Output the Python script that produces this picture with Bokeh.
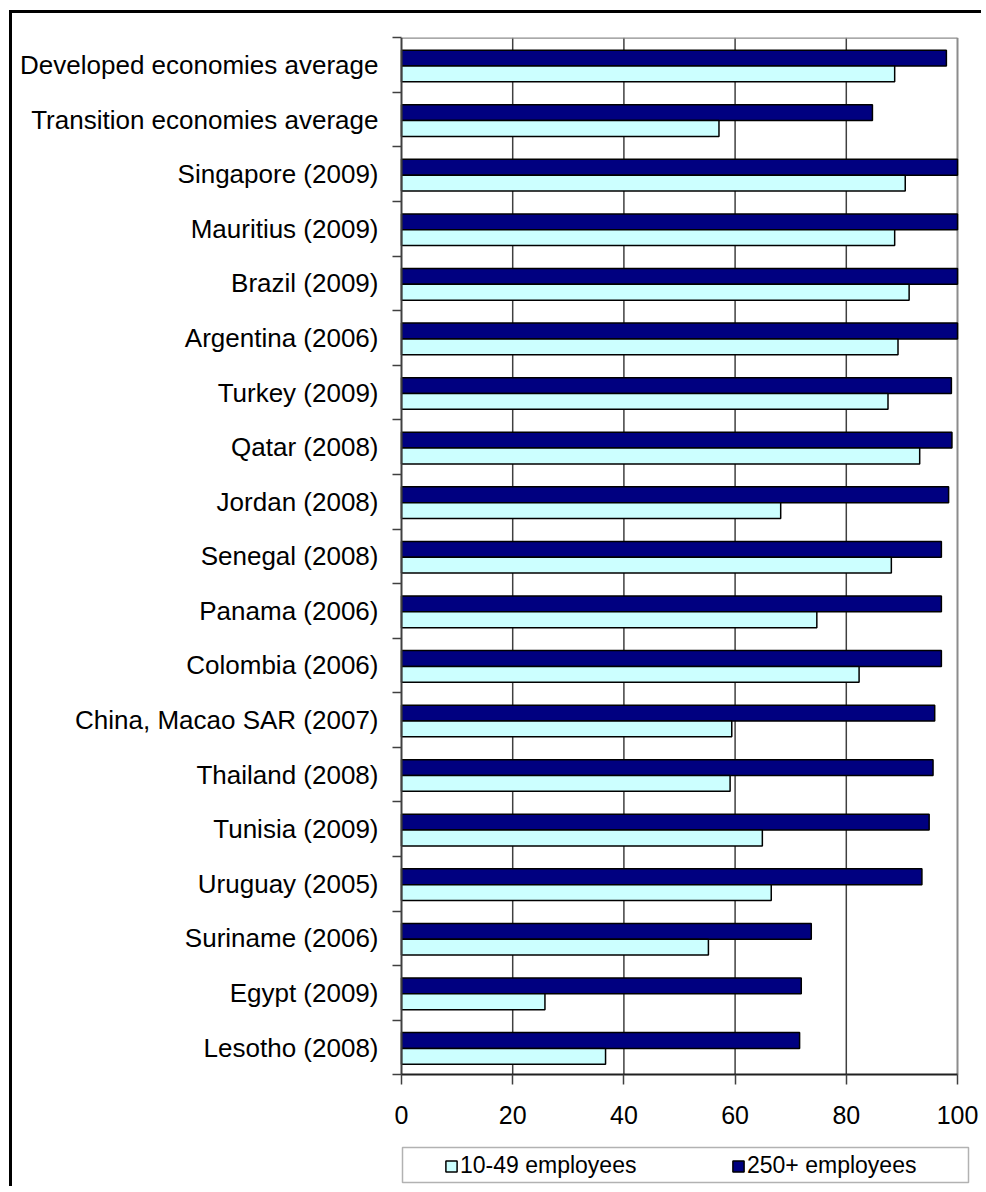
from bokeh.plotting import figure
from bokeh.models import (ColumnDataSource, FixedTicker, Legend, LegendItem,
                          BoxAnnotation, Range1d)
from bokeh.transform import dodge
from bokeh.embed import file_html
from bokeh.resources import INLINE

# Categories listed top to bottom as in the chart
categories = [
    "Developed economies average",
    "Transition economies average",
    "Singapore (2009)",
    "Mauritius (2009)",
    "Brazil (2009)",
    "Argentina (2006)",
    "Turkey (2009)",
    "Qatar (2008)",
    "Jordan (2008)",
    "Senegal (2008)",
    "Panama (2006)",
    "Colombia (2006)",
    "China, Macao SAR (2007)",
    "Thailand (2008)",
    "Tunisia (2009)",
    "Uruguay (2005)",
    "Suriname (2006)",
    "Egypt (2009)",
    "Lesotho (2008)",
]
small_10_49 = [88.7, 57.1, 90.6, 88.7, 91.3, 89.3, 87.5, 93.2, 68.2, 88.1,
               74.7, 82.3, 59.4, 59.1, 64.9, 66.5, 55.2, 25.8, 36.7]
large_250 = [98.0, 84.7, 100.0, 100.0, 100.0, 100.0, 98.9, 99.0, 98.4, 97.1,
             97.1, 97.1, 95.9, 95.6, 94.9, 93.6, 73.7, 71.9, 71.6]
x_ticks = [0, 20, 40, 60, 80, 100]
series_names = ["10-49 employees", "250+ employees"]

n = len(categories)
pos = [n - 1 - i for i in range(n)]          # bottom-most category at 0
src = ColumnDataSource(dict(y=pos, cat=categories, a=small_10_49, b=large_250))

# ---- layout (pixels, canvas coordinates) ----
W, H = 972, 1176
PAD_L = 8                 # frame starts this many px left of value 0
ML, MT = 381, 24          # frame left / top offsets in canvas
FW = 588                  # frame width
PLOT_W = 556              # pixels for 0..100
PLOT_H = 1037             # pixels for the category area
FH = H - MT
px_x = PLOT_W / 100.0
px_y = PLOT_H / n
y_top = n - 0.5 + 0.3 / px_y
y_bot = y_top - FH / px_y
x_start = -PAD_L / px_x
x_end = x_start + FW / px_x

p = figure(width=W, height=H, output_backend="svg", toolbar_location=None,
           x_range=Range1d(x_start, x_end), y_range=Range1d(y_bot, y_top),
           min_border_left=ML, min_border_right=W - ML - FW, min_border_top=MT,
           min_border_bottom=0, background_fill_color="white",
           border_fill_color="white")
p.styles = {"margin-left": "9px", "margin-top": "10px",
            "border-left": "3px solid black", "border-top": "3px solid black"}
p.outline_line_color = None
p.xgrid.visible = False
p.ygrid.visible = False

lo, hi = -0.5, n - 0.5
inner = x_ticks[1:-1]
p.segment(x0=inner, x1=inner, y0=[lo] * len(inner), y1=[hi] * len(inner),
          line_color="#404040", line_width=1.5)
# plot-area border (top and right)
p.segment(x0=[x_ticks[0], x_ticks[-1]], x1=[x_ticks[-1], x_ticks[-1]],
          y0=[hi, lo], y1=[hi, hi], line_color="#8c8c8c", line_width=2)

r_large = p.hbar(y=dodge("y", 0.128, range=p.y_range), right="b", left=0,
                 height=0.29, source=src, fill_color="#000080",
                 line_color="black", line_width=1.5)
r_small = p.hbar(y=dodge("y", -0.162, range=p.y_range), right="a", left=0,
                 height=0.29, source=src, fill_color="#CCFFFF",
                 line_color="black", line_width=1.5)

# value axis line (left edge of the plot area)
p.segment(x0=[x_ticks[0]], x1=[x_ticks[0]], y0=[lo], y1=[hi],
          line_color="#404040", line_width=2)

# x axis (drawn at the bottom of the category area)
xa = p.xaxis[0]
xa.fixed_location = lo
xa.bounds = (x_ticks[0], x_ticks[-1])
xa.ticker = FixedTicker(ticks=x_ticks)
xa.axis_line_color = "#202020"
xa.axis_line_width = 2
xa.major_tick_in = 0
xa.major_tick_out = 10
xa.major_tick_line_color = "#404040"
xa.major_tick_line_width = 1.5
xa.minor_tick_line_color = None
xa.major_label_text_font = "Liberation Sans"
xa.major_label_text_font_size = "25px"
xa.major_label_text_color = "black"
xa.major_label_standoff = 21

# y axis (labels + boundary ticks)
ya = p.yaxis[0]
ya.bounds = (lo, hi)
ya.ticker = FixedTicker(ticks=pos, minor_ticks=[k - 0.5 for k in range(n + 1)])
ya.major_label_overrides = {pp: c for pp, c in zip(pos, categories)}
ya.axis_line_color = None
ya.major_tick_in = 0
ya.major_tick_out = 0
ya.major_tick_line_color = None
ya.minor_tick_in = PAD_L
ya.minor_tick_out = 1
ya.minor_tick_line_color = "#404040"
ya.minor_tick_line_width = 1.5
ya.major_label_text_font = "Liberation Sans"
ya.major_label_text_font_size = "26px"
ya.major_label_text_color = "black"
ya.major_label_standoff = 14

# legend box (canvas pixels)
box = BoxAnnotation(left=ML + PAD_L - 2, right=ML + PAD_L + 564, top=1131,
                    bottom=1166,
                    left_units="canvas", right_units="canvas",
                    top_units="canvas", bottom_units="canvas",
                    fill_color="white", fill_alpha=1.0,
                    line_color="black", line_width=1.5, level="overlay")
p.add_layout(box)

legend = Legend(items=[LegendItem(label=series_names[0], renderers=[r_small]),
                       LegendItem(label=series_names[1], renderers=[r_large])],
                orientation="horizontal", location=(PAD_L + 43, 10),
                padding=4, spacing=71, label_width=200, label_standoff=2,
                glyph_width=14, glyph_height=14,
                label_text_font="Liberation Sans", label_text_font_size="23px",
                label_text_color="black", border_line_color=None,
                background_fill_alpha=0)
p.add_layout(legend, "center")

open("out.html", "w").write(file_html(p, INLINE))
